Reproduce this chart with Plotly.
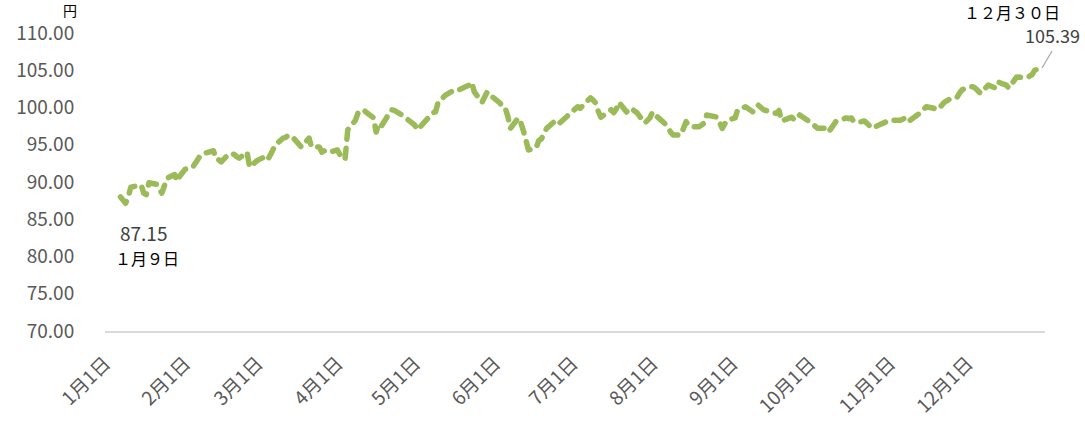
import plotly.graph_objects as go

YEAR = 2013
jan_days = [7, 8, 9, 10, 11, 15, 16, 17, 18, 21, 22, 23, 24, 25, 28, 29, 30, 31]
jan_vals = [88.0, 87.6, 87.15, 88.0, 89.3, 89.6, 88.5, 88.3, 89.9, 89.7, 89.0, 88.5, 89.5, 90.5, 91.0, 90.1, 90.8, 91.2]
feb_days = [1, 4, 5, 6, 7, 8, 12, 13, 14, 15, 18, 19, 20, 21, 22, 25, 26, 27, 28]
feb_vals = [91.7, 92.0, 92.5, 93.2, 93.6, 93.8, 94.2, 93.1, 93.0, 92.7, 93.8, 93.8, 93.7, 93.4, 93.2, 94.0, 92.0, 92.3, 92.6]
mar_days = [1, 4, 5, 6, 7, 8, 11, 12, 13, 14, 15, 18, 19, 21, 22, 25, 26, 27, 28, 29]
mar_vals = [92.9, 93.4, 93.0, 93.6, 94.3, 95.0, 95.9, 96.0, 96.3, 96.1, 95.9, 94.7, 95.1, 95.9, 94.7, 94.7, 94.0, 94.2, 94.0, 94.0]
apr_days = [1, 2, 3, 4, 5, 8, 9, 10, 11, 12, 15, 16, 17, 18, 19, 22, 23, 24, 25, 26, 30]
apr_vals = [94.3, 93.5, 93.0, 93.2, 97.0, 98.3, 99.3, 99.5, 99.7, 99.4, 98.6, 96.7, 97.8, 97.5, 98.1, 99.7, 99.6, 99.4, 99.2, 99.0, 97.9]
may_days = [1, 2, 7, 8, 9, 10, 13, 14, 15, 16, 17, 20, 21, 22, 23, 24, 27, 28, 29, 30, 31]
may_vals = [97.6, 97.0, 99.0, 99.3, 99.4, 100.7, 101.7, 101.9, 102.0, 102.3, 102.2, 102.6, 102.8, 103.0, 103.4, 102.1, 100.7, 101.5, 102.1, 101.7, 101.4]
jun_days = [3, 4, 5, 6, 7, 10, 11, 12, 13, 14, 17, 18, 19, 20, 21, 24, 25, 26, 27, 28]
jun_vals = [100.6, 100.0, 99.9, 98.8, 97.2, 98.6, 98.0, 96.9, 95.8, 94.3, 94.6, 95.6, 95.8, 96.5, 97.2, 98.1, 97.7, 97.9, 98.2, 98.6]
jul_days = [1, 2, 3, 4, 5, 8, 9, 10, 11, 12, 16, 17, 18, 19, 22, 23, 24, 25, 26, 29, 30, 31]
jul_vals = [99.3, 99.8, 100.1, 99.9, 100.3, 101.3, 101.0, 100.6, 99.5, 98.7, 99.7, 99.3, 99.8, 100.7, 99.4, 99.9, 99.8, 99.6, 99.3, 97.9, 98.2, 98.6]
aug_days = [1, 2, 5, 6, 7, 8, 9, 12, 13, 14, 15, 16, 19, 20, 21, 22, 23, 26, 27, 28, 29, 30]
aug_vals = [99.4, 99.0, 98.1, 97.8, 97.4, 96.7, 96.3, 96.3, 97.2, 98.1, 97.6, 97.4, 97.4, 97.6, 97.9, 99.0, 98.9, 98.7, 98.0, 97.2, 97.8, 98.3]
sep_days = [2, 3, 4, 5, 6, 9, 10, 11, 12, 13, 17, 18, 19, 20, 24, 25, 26, 27, 30]
sep_vals = [98.6, 99.7, 99.8, 100.0, 100.1, 99.4, 99.9, 100.3, 100.0, 99.7, 99.3, 99.2, 99.6, 98.2, 98.7, 98.3, 98.6, 99.0, 98.3]
oct_days = [1, 2, 3, 4, 7, 8, 9, 10, 11, 15, 16, 17, 18, 21, 22, 23, 24, 25, 28, 29, 30, 31]
oct_vals = [98.0, 97.7, 97.4, 97.2, 97.2, 96.7, 97.1, 97.6, 98.1, 98.6, 98.5, 98.6, 98.1, 98.1, 98.2, 97.9, 97.5, 97.2, 97.7, 97.9, 98.1, 98.2]
nov_days = [1, 5, 6, 7, 8, 11, 12, 13, 14, 15, 18, 19, 20, 21, 22, 25, 26, 27, 28, 29]
nov_vals = [98.3, 98.3, 98.5, 98.6, 98.1, 98.7, 99.1, 99.4, 99.7, 100.1, 99.9, 99.7, 99.9, 100.2, 100.7, 101.3, 101.4, 101.4, 102.0, 102.4]
dec_days = [2, 3, 4, 5, 6, 9, 10, 11, 12, 13, 16, 17, 18, 19, 20, 24, 25, 26, 27, 30]
dec_vals = [102.8, 102.8, 102.6, 102.2, 101.9, 103.0, 102.9, 102.7, 102.6, 103.4, 103.0, 102.6, 103.0, 103.6, 104.1, 104.0, 104.2, 104.4, 105.0, 105.39]

month_days = [jan_days, feb_days, mar_days, apr_days, may_days, jun_days,
              jul_days, aug_days, sep_days, oct_days, nov_days, dec_days]
month_vals = [jan_vals, feb_vals, mar_vals, apr_vals, may_vals, jun_vals,
              jul_vals, aug_vals, sep_vals, oct_vals, nov_vals, dec_vals]

tick_vals = [f"{YEAR}-{m:02d}-01" for m in range(1, 13)]
tick_text = [f"{m}月1日" for m in range(1, 13)]

dates, values = [], []
for m, (ds, vs) in enumerate(zip(month_days, month_vals), start=1):
    for d, v in zip(ds, vs):
        dates.append(f"{YEAR}-{m:02d}-{d:02d}")
        values.append(v)

FONT = "Noto Sans CJK JP"
GRAY = "#595959"

fig = go.Figure()
fig.add_trace(go.Scatter(
    x=dates, y=values, mode="lines",
    line=dict(color="#9BBB59", width=5.5, dash="10px,9px"),
    hoverinfo="skip", showlegend=False,
))

W, H = 1085, 426
L, R, T, B = 105, 40, 33, 95
pw, ph = W - L - R, H - T - B

def px(x):
    return (x - L) / pw

def py(y):
    return (H - B - y) / ph

annotations = [
    dict(text="円", x=px(70), y=py(10), font=dict(color="#000000", size=14)),
    dict(text="87.15", x=px(143), y=py(233), font=dict(color="#404040", size=19)),
    dict(text="１月９日", x=px(147), y=py(258), font=dict(color="#000000", size=16)),
    dict(text="１２月３０日", x=px(1012), y=py(12), font=dict(color="#000000", size=16)),
    dict(text="105.39", x=px(1052), y=py(35), font=dict(color="#404040", size=18)),
]
for a in annotations:
    a.update(xref="paper", yref="paper", showarrow=False, xanchor="center", yanchor="middle")

fig.update_layout(
    width=W, height=H,
    margin=dict(l=L, r=R, t=T, b=B, autoexpand=False),
    paper_bgcolor="white", plot_bgcolor="white",
    font=dict(family=FONT, color=GRAY, size=17),
    annotations=annotations,
    shapes=[dict(type="line", xref="paper", yref="paper",
                 x0=px(1042), y0=py(68), x1=px(1052), y1=py(51),
                 line=dict(color="#A6A6A6", width=1.2))],
    xaxis=dict(
        type="date", range=[f"{YEAR}-01-01", f"{YEAR}-12-31"],
        tickvals=tick_vals, ticktext=tick_text, tickangle=-45,
        showgrid=False, zeroline=False, automargin=False,
        showline=True, linecolor="#D9D9D9", linewidth=1.5,
        ticks="outside", ticklen=12, tickcolor="rgba(0,0,0,0)",
        tickfont=dict(size=19, color=GRAY, family=FONT),
    ),
    yaxis=dict(
        range=[70, 110], dtick=5, tickformat=".2f",
        showgrid=False, zeroline=False, showline=False, automargin=False,
        ticks="outside", ticklen=26, tickcolor="rgba(0,0,0,0)",
        tickfont=dict(size=19, color=GRAY, family=FONT),
    ),
)

post = """
document.body.style.margin='0';
document.querySelectorAll('.scatterlayer path.js-line').forEach(function(p){
  p.style.strokeLinecap='round'; p.style.strokeLinejoin='round';
});
"""
fig.write_html("out.html", post_script=post, config={"displayModeBar": False})
